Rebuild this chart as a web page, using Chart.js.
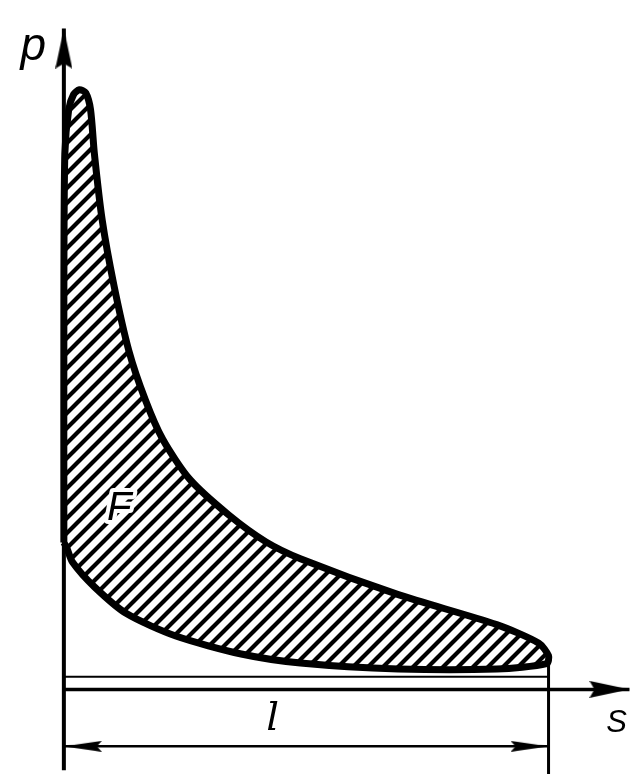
<!DOCTYPE html>
<html>
<head>
<meta charset="utf-8">
<script src="https://cdn.jsdelivr.net/npm/chart.js@4.4.0/dist/chart.umd.min.js"></script>
<style>
  body { margin: 0; background: #fff; }
  canvas { display: block; }
</style>
</head>
<body>
<canvas id="pvChart" width="635" height="783"></canvas>
<script>
// indicator loop, S in % of stroke l, p in % of peak pressure
var loopS = [0, 0, 0.2, 1.0, 2.0, 3.2, 4.5, 5.5, 6.3, 7.9, 10.3, 13.4, 16.8, 20.4, 25.9, 34.0, 41.7, 48.8, 69.0, 89.3, 98.0, 100, 99.6, 89.3, 69.0, 48.8, 36.6, 23.1, 13.0, 6.3, 1.8, 0.6, 0];
var loopP = [24.5, 64.7, 89.3, 96.7, 99.2, 100, 99.5, 96.7, 89.3, 78.3, 67.5, 56.5, 48.3, 41.7, 35.1, 29.1, 24.6, 21.8, 15.8, 10.8, 7.7, 5.6, 4.3, 3.4, 3.4, 4.4, 5.9, 8.9, 12.6, 17.1, 21.2, 23.6, 24.5];

// atmospheric line under the loop
var atmS = [0, 100];
var atmP = [2.1, 2.1];

// axes and dimension line
var axisS = [0, 116.7];
var axisP = [0, 0];
var pAxisS = [0, 0];
var pAxisP = [-13.5, 110.2];
var dimRightS = [100, 100];
var dimRightP = [5, -14.1];
var dimS = [0, 100];
var dimP = [-9.5, -9.5];

function pts(xs, ys) {
     return xs.map(function (x, i) { return { x: x, y: ys[i] }; });
}

// diagonal hatch for the loop area
function makeHatch() {
     var c = document.createElement('canvas');
     c.width = 15; c.height = 15;
     var g = c.getContext('2d');
     g.fillStyle = '#fff';
     g.fillRect(0, 0, 15, 15);
     g.strokeStyle = '#000';
     g.lineWidth = 4.2;
     g.beginPath();
     g.moveTo(-2, 17); g.lineTo(17, -2);
     g.moveTo(-2, 2); g.lineTo(2, -2);
     g.moveTo(13, 17); g.lineTo(17, 13);
     g.stroke();
     return g.createPattern(c, 'repeat');
}

// arrowhead image pointing up, tip in the centre of the canvas
function makeArrow(len, w) {
     var c = document.createElement('canvas');
     c.width = w; c.height = len * 2;
     var g = c.getContext('2d');
     g.fillStyle = '#000';
     g.beginPath();
     g.moveTo(w / 2, len);
     g.lineTo(w, len * 2);
     g.lineTo(w / 2, len * 2 - 5);
     g.lineTo(0, len * 2);
     g.closePath();
     g.fill();
     return c;
}

var bigArrow = makeArrow(40, 17);
var smallArrow = makeArrow(38, 11);

var labelPlugin = {
     id: 'labels',
     afterDatasetsDraw: function (chart) {
          var ctx = chart.ctx, x = chart.scales.x, y = chart.scales.y;
          function put(t, s, p, font, align) {
               ctx.save();
               ctx.font = font;
               ctx.textAlign = align;
               ctx.textBaseline = 'alphabetic';
               ctx.lineWidth = 8;
               ctx.lineJoin = 'round';
               ctx.strokeStyle = '#fff';
               ctx.strokeText(t, x.getPixelForValue(s), y.getPixelForValue(p));
               ctx.fillStyle = '#000';
               ctx.fillText(t, x.getPixelForValue(s), y.getPixelForValue(p));
               ctx.restore();
          }
          put('p', -6.3, 104.9, 'italic 46px "Liberation Sans", sans-serif', 'center');
          put('F', 8.9, 28.2, 'italic 40px "Liberation Sans", sans-serif', 'left');
          put('l', 43.1, -6.7, 'italic 40px "DejaVu Serif", serif', 'center');
          put('S', 111.9, -7.1, 'italic 31px "Liberation Sans", sans-serif', 'left');
     }
};

function lineSet(xs, ys, width) {
     return {
          data: pts(xs, ys),
          showLine: true,
          borderColor: '#000',
          borderWidth: width,
          pointRadius: 0,
          fill: false,
          clip: false
     };
}

var ctx = document.getElementById('pvChart').getContext('2d');
window.pvChart = new Chart(ctx, {
     type: 'scatter',
     data: {
          datasets: [
               {
                    data: pts(loopS, loopP),
                    showLine: true,
                    borderColor: '#000',
                    borderWidth: 7,
                    backgroundColor: makeHatch(),
                    fill: 'shape',
                    tension: 0.25,
                    pointRadius: 0,
                    clip: false
               },
               lineSet(atmS, atmP, 2),
               lineSet(axisS, axisP, 3.5),
               lineSet(pAxisS, pAxisP, 4),
               lineSet(dimRightS, dimRightP, 3),
               lineSet(dimS, dimP, 2.5),
               {
                    data: [{ x: 0, y: 110.2 }, { x: 116.7, y: 0 }, { x: 0, y: -9.5 }, { x: 100, y: -9.5 }],
                    showLine: false,
                    pointStyle: [bigArrow, bigArrow, smallArrow, smallArrow],
                    rotation: [0, 90, 270, 90],
                    pointRadius: 5,
                    clip: false
               }
          ]
     },
     options: {
          responsive: false,
          animation: false,
          layout: { padding: 0 },
          scales: {
               x: { type: 'linear', display: false, min: -11.94, max: 116.6 },
               y: { type: 'linear', display: false, min: -14.61, max: 113.96 }
          },
          plugins: {
               legend: { display: false },
               tooltip: { enabled: false }
          }
     },
     plugins: [labelPlugin]
});
</script>
</body>
</html>
